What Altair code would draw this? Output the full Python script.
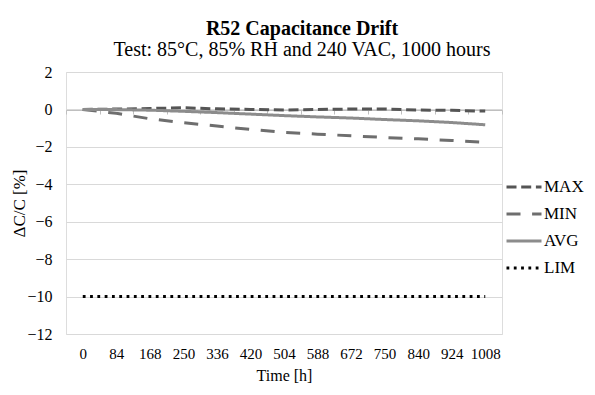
import altair as alt
import pandas as pd

hours = ["0", "84", "168", "250", "336", "420", "504", "588", "672", "750", "840", "924", "1008"]
max_vals = [0.00, 0.02, 0.05, 0.09, 0.03, 0.00, -0.03, 0.00, 0.02, 0.02, -0.03, -0.05, -0.09]
min_vals = [0.00, -0.21, -0.50, -0.71, -0.89, -1.07, -1.23, -1.32, -1.41, -1.50, -1.57, -1.66, -1.76]
avg_vals = [0.00, -0.01, -0.04, -0.10, -0.17, -0.25, -0.33, -0.40, -0.46, -0.54, -0.61, -0.70, -0.82]
lim_vals = [-10, -10, -10, -10, -10, -10, -10, -10, -10, -10, -10, -10, -10]

series = ["MAX", "MIN", "AVG", "LIM"]
colors = ["#555555", "#6e6e6e", "#8c8c8c", "#000000"]
dashes = [[10, 4.7], [14, 11.6], [1, 0], [2.8, 4.5]]

n = len(hours)
df = pd.DataFrame({
    "hour": hours * 4,
    "idx": list(range(n)) * 4,
    "series": ["MAX"] * n + ["MIN"] * n + ["AVG"] * n + ["LIM"] * n,
    "value": max_vals + min_vals + avg_vals + lim_vals,
})

font = "Liberation Serif"

chart = alt.Chart(df).mark_line(strokeWidth=3).encode(
    x=alt.X(
        "hour:O", sort=hours, bandPosition=0.5,
        scale=alt.Scale(type="band", paddingInner=0, paddingOuter=0),
        axis=alt.Axis(
            title="Time [h]", labelAngle=0, offset=-224, tickBand="extent",
            tickSize=4, tickColor="#bfbfbf", domainColor="#bfbfbf", domainWidth=1,
            labelPadding=232, labelFontSize=15, labelFont=font, labelColor="black",
            titleFont=font, titleFontSize=16, titleFontWeight="normal", titleColor="black",
            titleY=270, titleBaseline="alphabetic", grid=False,
        ),
    ),
    y=alt.Y(
        "value:Q",
        scale=alt.Scale(domain=[-12, 2], nice=False, zero=False),
        axis=alt.Axis(
            title="ΔC/C [%]", values=list(range(-12, 3, 2)), domain=False, ticks=False,
            gridColor="#d9d9d9", gridWidth=1, labelPadding=14, labelFontSize=16,
            labelFont=font, labelColor="black", titleFont=font, titleFontSize=17,
            titleFontWeight="normal", titleColor="black",
            titleX=-47, titleY=131, titleAngle=270, titleBaseline="middle", titleAlign="center",
        ),
    ),
    color=alt.Color(
        "series:N", scale=alt.Scale(domain=series, range=colors),
        legend=alt.Legend(
            title=None, orient="none", legendX=439, legendY=96, symbolType="stroke",
            symbolSize=1225, symbolStrokeWidth=3, labelFont=font, labelFontSize=17,
            labelColor="black", labelOffset=1, rowPadding=-3,
        ),
    ),
    strokeDash=alt.StrokeDash("series:N", scale=alt.Scale(domain=series, range=dashes)),
    order=alt.Order("idx:Q"),
).properties(
    width=436,
    height=262,
    padding={"left": 58, "top": 64, "right": 85, "bottom": 53},
    autosize=alt.AutoSizeParams(type="none"),
    title=alt.TitleParams(
        text="R52 Capacitance Drift",
        subtitle="Test: 85°C, 85% RH and 240 VAC, 1000 hours",
        font=font, fontSize=20, fontWeight="bold", color="black",
        subtitleFont=font, subtitleFontSize=20, subtitleColor="black",
        anchor="middle", dx=18, offset=4, subtitlePadding=1,
    ),
).configure_view(stroke=None).configure_axis(
    labelFont=font, titleFont=font
).configure(background="white")

chart.save("out.html", embed_options={"renderer": "svg", "actions": False})
